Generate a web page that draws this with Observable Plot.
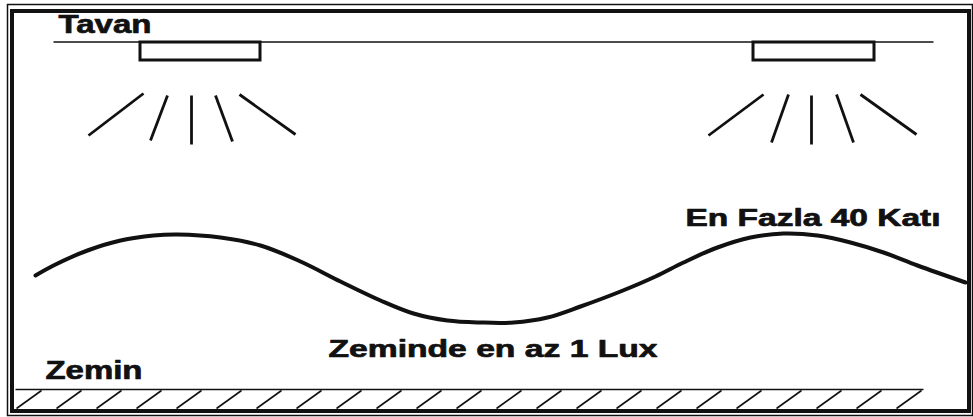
<!DOCTYPE html>
<html>
<head>
<meta charset="utf-8">
<script src="https://cdn.jsdelivr.net/npm/d3@7"></script>
<script src="https://cdn.jsdelivr.net/npm/@observablehq/plot@0.6"></script>
<style>
  html, body { margin: 0; padding: 0; background: #fff; }
  #chart svg { display: block; }
</style>
</head>
<body>
<div id="chart"></div>
<script>
// ---- diagram data (diagram coordinate units) ----
const labels      = ["Tavan", "Zemin", "Zeminde en az 1 Lux", "En Fazla 40 Katı"];
const labelX      = [58, 45, 328, 685];
const labelY      = [32, 378, 356, 225];
const labelSize   = [26, 26, 24, 24];
const labelWidth  = [93, 97, 329, 255];

const ceilingLine = [{x1: 53, x2: 933, y: 41.5}];
const lampX1 = [140, 753];
const lampX2 = [260, 874];
const lampY1 = [42, 42];
const lampY2 = [60, 60];

// light rays: start (near lamp) and end points
const rayX1 = [143, 167, 191, 215, 239, 763, 788, 811, 836, 860];
const rayY1 = [93, 95, 95, 95, 94, 94, 94, 95, 94, 94];
const rayX2 = [88, 150, 191, 232, 295, 708, 771, 811, 853, 916];
const rayY2 = [135, 140, 144, 141, 134, 135, 142, 144, 142, 134];

// illuminance wave
const waveX = [35, 53, 87, 120, 153, 177, 220, 260, 300, 340, 380, 413, 447, 480, 513, 547, 580, 620, 655, 683, 717, 750, 783, 817, 850, 883, 917, 965];
const waveY = [275, 265, 250, 240, 235, 234, 237, 245, 261, 281, 300, 313, 320, 322, 322, 317, 306, 291, 276, 262, 247, 237, 233, 235, 242, 252, 265, 282];

// floor
const floorLine = [{x1: 15, x2: 923, y: 389}];
const hatchX = [16, 56, 96, 136, 176, 216, 256, 296, 336, 376, 416, 456, 496, 536, 576, 616, 656, 696, 736, 776, 816, 856, 896];

// frame (outer thin, inner thick)
const frameThin  = [{x1: 7.5, y1: 4.5, x2: 972.5, y2: 415.5}];
const frameThick = [{x1: 12, y1: 11, x2: 969, y2: 411}];

// ---- build tables ----
const labelData = labels.map((t, i) => ({t, x: labelX[i], y: labelY[i], s: labelSize[i]}));
const lamps = lampX1.map((x1, i) => ({x1, x2: lampX2[i], y1: lampY1[i], y2: lampY2[i]}));
const rays = rayX1.map((x1, i) => ({x1, y1: rayY1[i], x2: rayX2[i], y2: rayY2[i]}));
const wave = waveX.map((x, i) => ({x, y: waveY[i]}));
const hatches = hatchX.map(x => ({x1: x, y1: 408, x2: x + 25, y2: 390}));

const ink = "#111";
const svg = Plot.plot({
  width: 973,
  height: 417,
  margin: 0,
  style: {background: "#fff"},
  x: {domain: [0, 973], range: [0, 973], axis: null},
  y: {domain: [0, 417], range: [0, 417], axis: null},
  marks: [
    Plot.rect(frameThin, {x1: "x1", x2: "x2", y1: "y1", y2: "y2", fill: "none", stroke: ink, strokeWidth: 1.5}),
    Plot.rect(frameThick, {x1: "x1", x2: "x2", y1: "y1", y2: "y2", fill: "none", stroke: ink, strokeWidth: 4}),
    Plot.link(ceilingLine, {x1: "x1", x2: "x2", y1: "y", y2: "y", stroke: ink, strokeWidth: 1.6}),
    Plot.rect(lamps, {x1: "x1", x2: "x2", y1: "y1", y2: "y2", fill: "#fff", stroke: ink, strokeWidth: 3}),
    Plot.link(rays, {x1: "x1", y1: "y1", x2: "x2", y2: "y2", stroke: ink, strokeWidth: 2.8}),
    Plot.line(wave, {x: "x", y: "y", curve: "catmull-rom", stroke: ink, strokeWidth: 4}),
    Plot.link(floorLine, {x1: "x1", x2: "x2", y1: "y", y2: "y", stroke: ink, strokeWidth: 1.6}),
    Plot.link(hatches, {x1: "x1", y1: "y1", x2: "x2", y2: "y2", stroke: ink, strokeWidth: 1.6}),
    Plot.text(labelData, {
      x: "x", y: "y", text: "t", fontSize: "s",
      textAnchor: "start", lineAnchor: "bottom",
      fill: ink, stroke: ink, strokeWidth: 0.7,
      fontWeight: "bold", fontFamily: "Liberation Sans, Arial, sans-serif"
    })
  ]
});
document.getElementById("chart").appendChild(svg);
// stretch labels horizontally to the widths seen in the reference
d3.select(svg).selectAll('g[aria-label="text"] text').each(function(_, i) {
  this.setAttribute("textLength", labelWidth[i]);
  this.setAttribute("lengthAdjust", "spacingAndGlyphs");
});
</script>
</body>
</html>
